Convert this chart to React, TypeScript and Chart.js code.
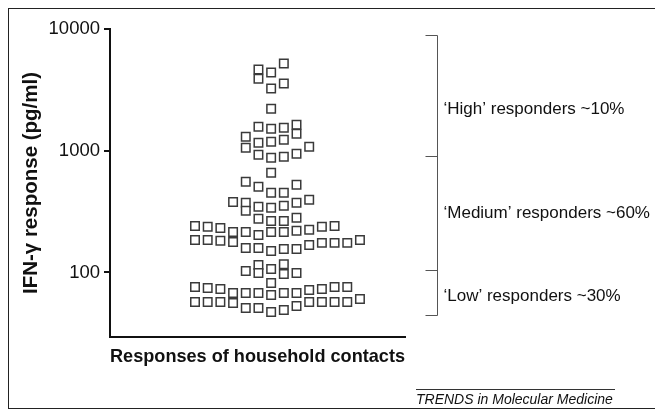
import React, { useEffect, useRef } from "react";
import { Chart, registerables } from "chart.js";

Chart.register(...registerables);

const FONT = '"Liberation Sans", Arial, Helvetica, sans-serif';

// Axis settings
const Y_TICKS = [100, 1000, 10000];
const Y_MIN = 29.5;
const Y_MAX = 10000;
const X_MIN = -12.7;
const X_MAX = 10.55;

// 'High' responders (column position, IFN-gamma pg/ml)
const highX = [-1, -1, 0, 1, 1, 0, 0, -1, 0, 1, 2, 2, -2, -2, -1, 0, 1, 3, -1, 0, 1, 2];
const highY = [4640, 3910, 4385, 5200, 3560, 3240, 2216, 1576, 1518, 1547, 1637, 1380, 1304, 1058, 1164, 1186, 1232, 1079, 927, 876, 892, 945];

// 'Medium' responders
const medX = [
  0,
  -2, -1, 0, 1, 2,
  -3, -2, -2, -1, 0, 1, 2, 3,
  -1, 0, 1, 2,
  -6, -5, -4, -3, -2, -1, 0, 1, 2, 3, 4, 5,
  -6, -5, -4, -3, -2, -1, 0, 1, 2, 3, 4, 5, 6, 7,
];
const medY = [
  659,
  556, 505, 451, 451, 525,
  380, 373, 321, 346, 340, 353, 373, 395,
  276, 265, 265, 281,
  241, 237, 232, 215, 215, 203, 215, 215, 220, 224, 237, 241,
  185, 185, 182, 178, 159, 159, 150, 156, 156, 168, 175, 175, 175, 185,
];

// 'Low' responders
const lowX = [
  -2, -1, -1, 0, 1, 1, 2, 0,
  -6, -5, -4, -3, -2, -1, 0, 1, 2, 3, 4, 5, 6,
  -6, -5, -4, -3, -2, -1, 0, 1, 2, 3, 4, 5, 6, 7,
];
const lowY = [
  103, 115, 99, 107, 117, 97, 99, 82,
  76, 74.5, 73, 67.8, 67.8, 67.8, 65.3, 67.8, 67.8, 71.8, 73, 76, 76,
  57.2, 57.2, 57.2, 56.1, 51, 51, 47.3, 49.1, 53, 57.2, 57.2, 57.2, 57.2, 60.5,
];

// Bracket boundaries and labels
const BRACKET_VALUES = [9000, 900, 105, 45];
const GROUP_LABELS = [
  "\u2018High\u2019 responders ~10%",
  "\u2018Medium\u2019 responders ~60%",
  "\u2018Low\u2019 responders ~30%",
];
const LABEL_VALUES = [2175, 309, 64];

const Y_TITLE = "IFN-\u03b3 response (pg/ml)";
const X_TITLE = "Responses of household contacts";
const FOOTER = "TRENDS in Molecular Medicine";

const toPoints = (xs: number[], ys: number[]) => xs.map((x, i) => ({ x, y: ys[i] }));

const annotPlugin = {
  id: "annot",
  afterDraw(chart: any) {
    const { ctx, chartArea } = chart;
    const y = chart.scales.y;
    const bx = Math.round(chartArea.right + 32) + 0.5;
    ctx.save();
    ctx.strokeStyle = "#555";
    ctx.lineWidth = 1;
    const ys = BRACKET_VALUES.map((v) => Math.round(y.getPixelForValue(v)) + 0.5);
    ctx.beginPath();
    ctx.moveTo(bx, ys[0]);
    ctx.lineTo(bx, ys[ys.length - 1]);
    ys.forEach((py) => {
      ctx.moveTo(bx - 12, py);
      ctx.lineTo(bx, py);
    });
    ctx.stroke();

    ctx.fillStyle = "#111";
    ctx.font = `17px ${FONT}`;
    ctx.textBaseline = "middle";
    ctx.textAlign = "left";
    GROUP_LABELS.forEach((t, i) => ctx.fillText(t, bx + 6, y.getPixelForValue(LABEL_VALUES[i])));

    // footer
    ctx.strokeStyle = "#333";
    ctx.beginPath();
    ctx.moveTo(407, 380.5);
    ctx.lineTo(606, 380.5);
    ctx.stroke();
    ctx.font = `italic 14px ${FONT}`;
    ctx.fillStyle = "#111";
    ctx.fillText(FOOTER, 407, 391);
    ctx.restore();
  },
};

export default function App() {
  const ref = useRef<HTMLCanvasElement | null>(null);

  useEffect(() => {
    if (!ref.current) return;
    const pointStyle = {
      pointStyle: "rect" as const,
      pointRadius: 6,
      pointHoverRadius: 6,
      pointBorderWidth: 1.5,
      pointBorderColor: "#3a3a3a",
      pointBackgroundColor: "#ffffff",
      showLine: false,
    };
    const chart = new Chart(ref.current, {
      type: "scatter",
      data: {
        datasets: [
          { label: "High", data: toPoints(highX, highY), ...pointStyle },
          { label: "Medium", data: toPoints(medX, medY), ...pointStyle },
          { label: "Low", data: toPoints(lowX, lowY), ...pointStyle },
        ],
      },
      options: {
        animation: false,
        responsive: false,
        events: [],
        layout: { padding: { left: 0, top: 20, right: 250, bottom: 40 } },
        plugins: { legend: { display: false }, tooltip: { enabled: false } },
        scales: {
          x: {
            type: "linear",
            min: X_MIN,
            max: X_MAX,
            afterFit: (s: any) => {
              s.height = 31;
            },
            ticks: { display: false },
            grid: { display: false },
            border: { display: true, color: "#111", width: 2 },
            title: {
              display: true,
              text: X_TITLE,
              color: "#111",
              font: { size: 18.5, weight: "bold", family: FONT },
              padding: { top: 0, bottom: 0 },
            },
          },
          y: {
            type: "logarithmic",
            min: Y_MIN,
            max: Y_MAX,
            afterBuildTicks: (s: any) => {
              s.ticks = Y_TICKS.map((v) => ({ value: v }));
            },
            afterFit: (s: any) => {
              s.width = 101;
            },
            ticks: {
              autoSkip: false,
              padding: 4,
              color: "#111",
              font: { size: 18.5, family: FONT },
              callback: (v: any) => String(v),
            },
            grid: {
              display: true,
              drawOnChartArea: false,
              drawTicks: true,
              tickLength: 6,
              color: "#111",
              lineWidth: 2,
            },
            border: { display: true, color: "#111", width: 2 },
            title: {
              display: true,
              text: Y_TITLE,
              color: "#111",
              font: { size: 20.5, weight: "bold", family: FONT },
              padding: { top: 10, bottom: 0 },
            },
          },
        },
      },
      plugins: [annotPlugin],
    } as any);
    return () => chart.destroy();
  }, []);

  return (
    <div style={{ width: 646, height: 399, border: "1px solid #222" }}>
      <canvas ref={ref} width={646} height={399} style={{ display: "block" }} />
    </div>
  );
}
